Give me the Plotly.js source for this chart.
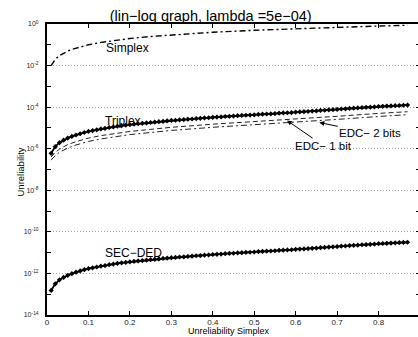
<!DOCTYPE html>
<html>
<head>
<meta charset="utf-8">
<script src="https://cdn.plot.ly/plotly-3.0.1.min.js"></script>
<style>
html,body{margin:0;padding:0;overflow:hidden;background:#fff;}
#chart{width:420px;height:337px;}
</style>
</head>
<body>
<div id="chart"></div>
<script>
// x positions (Unreliability Simplex) of the marked curves
const xVals = [0.01,0.02,0.03,0.04,0.05,0.06,0.07,0.08,0.09,0.10,
0.11,0.12,0.13,0.14,0.15,0.16,0.17,0.18,0.19,0.20,
0.21,0.22,0.23,0.24,0.25,0.26,0.27,0.28,0.29,0.30,
0.31,0.32,0.33,0.34,0.35,0.36,0.37,0.38,0.39,0.40,
0.41,0.42,0.43,0.44,0.45,0.46,0.47,0.48,0.49,0.50,
0.51,0.52,0.53,0.54,0.55,0.56,0.57,0.58,0.59,0.60,
0.61,0.62,0.63,0.64,0.65,0.66,0.67,0.68,0.69,0.70,
0.71,0.72,0.73,0.74,0.75,0.76,0.77,0.78,0.79,0.80,
0.81,0.82,0.83,0.84,0.85,0.86,0.87];

// values, stored as decimal exponents (log10 of unreliability)
const triplexExp = [-6.22,-5.90,-5.71,-5.59,-5.49,-5.41,-5.34,-5.28,-5.22,-5.17,
-5.13,-5.09,-5.05,-5.02,-4.98,-4.95,-4.92,-4.89,-4.87,-4.84,
-4.82,-4.80,-4.78,-4.76,-4.74,-4.72,-4.70,-4.68,-4.66,-4.64,
-4.63,-4.61,-4.60,-4.58,-4.57,-4.55,-4.54,-4.52,-4.51,-4.49,
-4.48,-4.47,-4.45,-4.44,-4.43,-4.41,-4.40,-4.39,-4.38,-4.37,
-4.35,-4.34,-4.33,-4.32,-4.31,-4.29,-4.28,-4.27,-4.26,-4.24,
-4.23,-4.22,-4.21,-4.19,-4.18,-4.16,-4.15,-4.13,-4.12,-4.11,
-4.09,-4.08,-4.06,-4.05,-4.04,-4.02,-4.01,-4.00,-3.99,-3.97,
-3.96,-3.95,-3.94,-3.93,-3.92,-3.91,-3.90];

const secdedExp = [-12.82,-12.50,-12.31,-12.19,-12.09,-12.01,-11.94,-11.88,-11.82,-11.77,
-11.73,-11.69,-11.65,-11.62,-11.58,-11.55,-11.52,-11.49,-11.47,-11.44,
-11.42,-11.40,-11.38,-11.36,-11.34,-11.32,-11.30,-11.28,-11.26,-11.24,
-11.23,-11.21,-11.20,-11.18,-11.17,-11.15,-11.14,-11.12,-11.11,-11.09,
-11.08,-11.07,-11.05,-11.04,-11.03,-11.01,-11.00,-10.99,-10.98,-10.97,
-10.95,-10.94,-10.93,-10.92,-10.91,-10.89,-10.88,-10.87,-10.86,-10.84,
-10.83,-10.82,-10.81,-10.79,-10.78,-10.76,-10.75,-10.73,-10.72,-10.71,
-10.69,-10.68,-10.66,-10.65,-10.64,-10.62,-10.61,-10.60,-10.59,-10.57,
-10.56,-10.55,-10.54,-10.53,-10.52,-10.51,-10.50];

// unmarked curves
const simplexX = [0.01,0.015,0.02,0.03,0.04,0.05,0.06,0.08,0.10,0.13,0.16,0.20,0.25,0.30,0.35,0.40,0.50,0.60,0.70,0.80,0.87];
const simplexVals = [0.01,0.015,0.02,0.03,0.04,0.05,0.06,0.08,0.10,0.13,0.16,0.20,0.25,0.30,0.35,0.40,0.50,0.60,0.70,0.80,0.87];

const edcX = [0.01,0.02,0.03,0.04,0.05,0.07,0.10,0.13,0.16,0.20,0.25,0.30,0.40,0.50,0.60,0.70,0.80,0.87];
const edc2Exp = [-6.40,-6.18,-6.02,-5.90,-5.80,-5.66,-5.49,-5.37,-5.28,-5.17,-5.07,-4.97,-4.82,-4.70,-4.57,-4.44,-4.30,-4.22];
const edc1Exp = [-6.55,-6.33,-6.17,-6.06,-5.97,-5.82,-5.65,-5.53,-5.43,-5.32,-5.22,-5.12,-4.97,-4.85,-4.72,-4.59,-4.45,-4.36];

const xTickVals = [0,0.1,0.2,0.3,0.4,0.5,0.6,0.7,0.8,0.9];
const xTickText = ['0','0.1','0.2','0.3','0.4','0.5','0.6','0.7','0.8','0.9'];
const yTickVals = [1e-14,1e-12,1e-10,1e-8,1e-6,1e-4,1e-2,1e0];
const yTickText = ['10<sup>-14</sup>','10<sup>-12</sup>','10<sup>-10</sup>','10<sup>-8</sup>','10<sup>-6</sup>','10<sup>-4</sup>','10<sup>-2</sup>','10<sup>0</sup>'];
const yMinorVals = [1e-13,1e-11,1e-9,1e-7,1e-5,1e-3,1e-1];

const fromExp = a => a.map(e => Math.pow(10, e));
const FONT = 'Liberation Sans, Arial, Helvetica, sans-serif';

const markStyle = {symbol: 'diamond', size: 4, color: '#000'};

const traces = [
  {x: simplexX, y: simplexVals, mode: 'lines', name: 'Simplex',
   line: {color: '#000', width: 1.4, dash: '6px,3px,2px,3px'}},
  {x: edcX, y: fromExp(edc2Exp), mode: 'lines', name: 'EDC- 2 bits',
   line: {color: '#222', width: 1, dash: '5px,3px'}},
  {x: edcX, y: fromExp(edc1Exp), mode: 'lines', name: 'EDC- 1 bit',
   line: {color: '#222', width: 1, dash: '6px,3px,2px,3px'}},
  {x: xVals, y: fromExp(triplexExp), mode: 'lines+markers', name: 'Triplex',
   line: {color: '#000', width: 1.8}, marker: markStyle},
  {x: xVals, y: fromExp(secdedExp), mode: 'lines+markers', name: 'SEC-DED',
   line: {color: '#000', width: 1.8}, marker: markStyle}
];

const lab = (text, x, y) => ({text, x, y, xref: 'x', yref: 'y', showarrow: false,
  font: {family: FONT, size: 12, color: '#000'}});

const layout = {
  width: 420, height: 337,
  margin: {l: 47, r: 0, t: 24, b: 22, autoexpand: false},
  paper_bgcolor: '#fff', plot_bgcolor: '#fff',
  showlegend: false,
  font: {family: FONT, color: '#000'},
  title: {text: '(lin\u2212log graph, lambda =5e\u221204)', font: {family: FONT, size: 14.5, color: '#000'},
          x: 210.7/420, xref: 'container', xanchor: 'center', y: 1 - 15.5/337, yref: 'container', yanchor: 'middle'},
  xaxis: {range: [0, 0.9], tickmode: 'array', tickvals: xTickVals, ticktext: xTickText, automargin: false,
          ticks: 'inside', ticklen: 4, tickwidth: 1, tickcolor: '#000',
          showline: true, linecolor: '#000', linewidth: 2, mirror: 'ticks',
          showgrid: false, zeroline: false, ticklabelstandoff: -2,
          tickfont: {family: FONT, size: 8, color: '#222'}},
  yaxis: {type: 'log', range: [-14, 0], tickmode: 'array', tickvals: yTickVals, ticktext: yTickText, automargin: false,
          ticks: 'inside', ticklen: 4, tickwidth: 1, tickcolor: '#000',
          showline: true, linecolor: '#000', linewidth: 2, mirror: 'allticks',
          showgrid: true, gridcolor: '#a8a8a8', griddash: '1px,2px', gridwidth: 1, zeroline: false,
          minor: {tickvals: yMinorVals, ticks: 'inside', ticklen: 4, tickcolor: '#000', showgrid: false},
          ticklabelstandoff: 5,
          tickfont: {family: FONT, size: 7, color: '#222'}},
  annotations: [
    {text: 'Unreliability', textangle: -90, xref: 'paper', yref: 'paper',
     x: (19.5 - 47) / 373, y: (315 - 172) / 291, xanchor: 'center', yanchor: 'middle', showarrow: false,
     font: {family: FONT, size: 9.5, color: '#000'}},
    {text: 'Unreliability Simplex', xref: 'paper', yref: 'paper', borderpad: 0,
     x: (229 - 47) / 373, y: (315 - 331.3) / 291, xanchor: 'center', yanchor: 'middle', showarrow: false,
     font: {family: FONT, size: 9, color: '#000'}},
    lab('Simplex', 0.194, -1.17),
    lab('Triplex', 0.183, -4.65),
    lab('SEC\u2212DED', 0.209, -11.02),
    {text: 'EDC\u2212 2 bits', x: 0.657, y: -4.74, xref: 'x', yref: 'y', showarrow: true,
     ax: 51, ay: 10.5, arrowhead: 2, arrowsize: 1, arrowwidth: 1, arrowcolor: '#000',
     font: {family: FONT, size: 11.5, color: '#000'}},
    {text: 'EDC\u2212 1 bit', x: 0.579, y: -4.64, xref: 'x', yref: 'y', showarrow: true,
     ax: 36.5, ay: 25.2, arrowhead: 2, arrowsize: 1, arrowwidth: 1, arrowcolor: '#000',
     font: {family: FONT, size: 11.5, color: '#000'}}
  ]
};

Plotly.newPlot('chart', traces, layout, {staticPlot: true, displayModeBar: false});
</script>
</body>
</html>
